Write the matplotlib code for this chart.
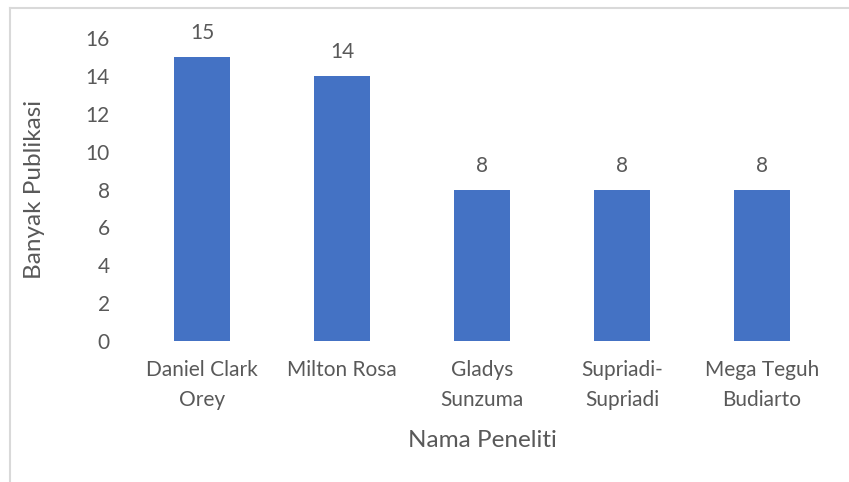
import matplotlib.pyplot as plt
from matplotlib.lines import Line2D

names = ['Daniel Clark\nOrey', 'Milton Rosa', 'Gladys\nSunzuma', 'Supriadi-\nSupriadi', 'Mega Teguh\nBudiarto']
counts = [15, 14, 8, 8, 8]

plt.rcParams['font.family'] = ['Lato', 'DejaVu Sans']
grey = '#595959'

fig = plt.figure(figsize=(8.49, 4.82), dpi=100)
ax = fig.add_axes([132 / 849, 1 - 341 / 482, 700 / 849, 303 / 482])

bars = ax.bar(range(len(names)), counts, width=0.4, color='#4472C4')
for b, v in zip(bars, counts):
    ax.annotate(str(v), (b.get_x() + b.get_width() / 2, v), xytext=(0, 10),
                textcoords='offset points', ha='center', va='bottom',
                fontsize=15, color=grey)

ax.set_xlim(-0.5, 4.5)
ax.set_ylim(0, 16)
ax.set_yticks(range(0, 17, 2))
ax.set_xticks(range(len(names)))
ax.set_xticklabels(names, linespacing=1.6)
for s in ax.spines.values():
    s.set_visible(False)
ax.tick_params(length=0, labelsize=15, labelcolor=grey)
ax.tick_params(axis='x', pad=14)
ax.tick_params(axis='y', pad=16)

ax.set_ylabel('Banyak Publikasi', fontsize=17.5, color=grey, va='center')
ax.set_xlabel('Nama Peneliti', fontsize=17.5, color=grey, va='center')
ax.yaxis.set_label_coords(-0.139, 0.5)
ax.xaxis.set_label_coords(0.5, -0.327)

# light frame at left and top like the source image
fig.add_artist(Line2D([10 / 849, 10 / 849], [0, 1 - 8 / 482], color='#d9d9d9', lw=1.5))
fig.add_artist(Line2D([10 / 849, 1], [1 - 8 / 482, 1 - 8 / 482], color='#d9d9d9', lw=1.5))

fig.savefig('out.png', dpi=100)
